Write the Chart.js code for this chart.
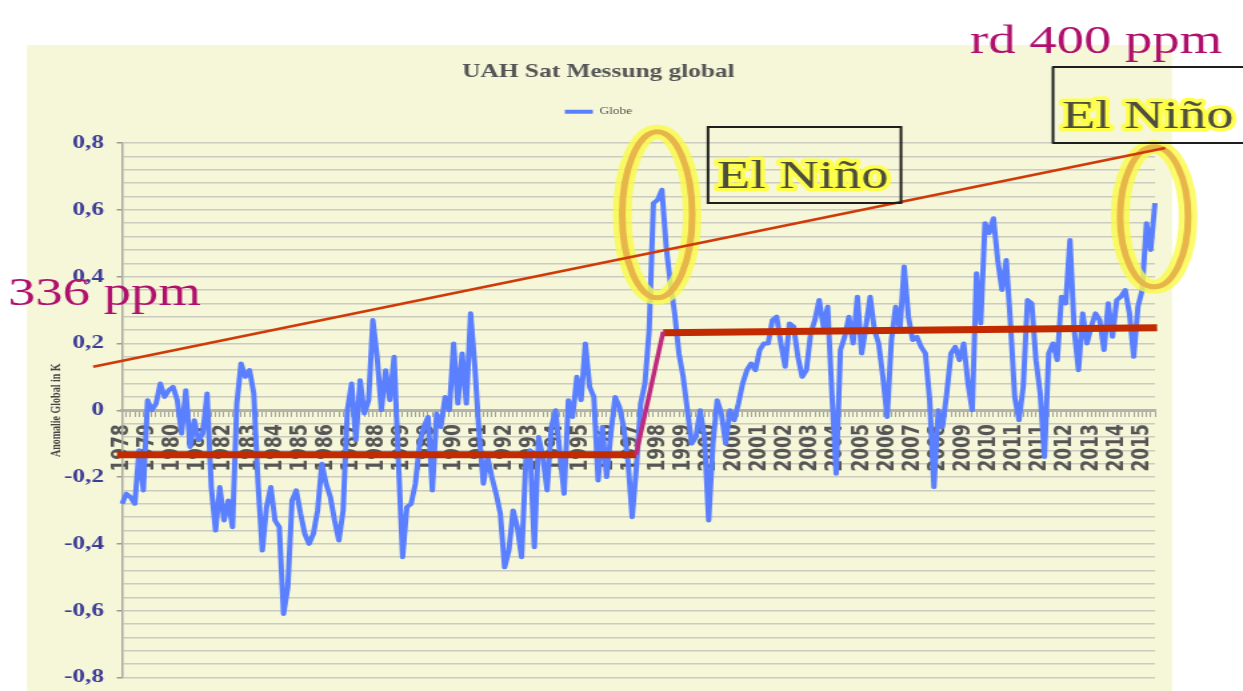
<!DOCTYPE html>
<html>
<head>
<meta charset="utf-8">
<title>UAH Sat Messung global</title>
<script src="https://cdn.jsdelivr.net/npm/chart.js@4.4.1/dist/chart.umd.min.js"></script>
<style>
  html, body { margin: 0; padding: 0; background: #fff; }
  #wrap { width: 1243px; height: 691px; overflow: hidden; }
</style>
</head>
<body>
<div id="wrap">
  <!-- the slide is a 4:3 picture stretched to 16:9, so the canvas is drawn narrow and stretched by css -->
  <canvas id="uahChart" width="932" height="691" style="width:1243px;height:691px"></canvas>
</div>
<script>
// UAH global anomaly: one value every two months
const anomaly = [
  -0.28, -0.25, -0.26, -0.28, -0.12, -0.24, 0.03, 0.00, 0.02, 0.08,
  0.04, 0.06, 0.07, 0.03, -0.07, 0.06, -0.11, -0.03, -0.09, -0.07,
  0.05, -0.23, -0.36, -0.23, -0.33, -0.27, -0.35, 0.02, 0.14, 0.10,
  0.12, 0.05, -0.22, -0.42, -0.29, -0.23, -0.33, -0.35, -0.61, -0.53,
  -0.27, -0.24, -0.31, -0.37, -0.40, -0.37, -0.30, -0.16, -0.22, -0.26,
  -0.33, -0.39, -0.30, 0.00, 0.08, -0.09, 0.09, -0.01, 0.03, 0.27,
  0.16, 0.00, 0.12, 0.03, 0.16, -0.15, -0.44, -0.29, -0.28, -0.22,
  -0.10, -0.05, -0.02, -0.24, -0.01, -0.05, 0.04, 0.00, 0.20, 0.02,
  0.17, 0.02, 0.29, 0.13, -0.07, -0.22, -0.14, -0.20, -0.25, -0.31,
  -0.47, -0.42, -0.30, -0.35, -0.44, -0.15, -0.12, -0.41, -0.08, -0.14,
  -0.24, -0.05, 0.00, -0.13, -0.25, 0.03, -0.02, 0.10, 0.03, 0.20,
  0.07, 0.04, -0.21, -0.05, -0.20, -0.07, 0.04, 0.01, -0.05, -0.15,
  -0.32, -0.17, 0.02, 0.08, 0.24, 0.62, 0.63, 0.66, 0.49, 0.38,
  0.29, 0.17, 0.10, 0.00, -0.10, -0.08, 0.00, -0.08, -0.33, -0.10,
  0.03, -0.01, -0.10, 0.00, -0.03, 0.02, 0.08, 0.12, 0.14, 0.12,
  0.18, 0.20, 0.20, 0.27, 0.28, 0.20, 0.13, 0.26, 0.25, 0.16,
  0.10, 0.12, 0.23, 0.27, 0.33, 0.25, 0.31, 0.05, -0.19, 0.18,
  0.22, 0.28, 0.20, 0.34, 0.17, 0.25, 0.34, 0.24, 0.20, 0.10,
  -0.02, 0.21, 0.31, 0.24, 0.43, 0.28, 0.21, 0.22, 0.19, 0.17,
  0.03, -0.23, 0.00, -0.05, 0.05, 0.17, 0.19, 0.15, 0.20, 0.08,
  0.00, 0.41, 0.26, 0.56, 0.53, 0.575, 0.45, 0.36, 0.45, 0.26,
  0.04, -0.03, 0.07, 0.33, 0.32, 0.15, 0.05, -0.14, 0.17, 0.20,
  0.15, 0.34, 0.32, 0.51, 0.24, 0.12, 0.29, 0.20, 0.25, 0.29,
  0.27, 0.18, 0.32, 0.22, 0.33, 0.34, 0.36, 0.29, 0.16, 0.31,
  0.36, 0.56, 0.48, 0.62
];
const periods = anomaly.map((_, i) => i);

// category labels as printed on the slide, one every 6 points
const yearLabels = [
  '1978', '1979', '1980', '1981', '1982', '1983', '1984', '1985', '1986', '1987',
  '1988', '1989', '1989', '1990', '1991', '1992', '1993', '1994', '1995', '1996',
  '1997', '1998', '1999', '2000', '2000', '2001', '2002', '2003', '2004', '2005',
  '2006', '2007', '2008', '2009', '2010', '2011', '2011', '2012', '2013', '2014',
  '2015'
];
const labelEvery = 6;

// overlay lines, in data units (x = point index, y = anomaly)
const co2TrendX = [-6.8, 245.4];
const co2TrendY = [0.13, 0.785];
const stepLowX = [-1.2, 120.9];
const stepLowY = [-0.133, -0.133];
const stepRiseX = [120.9, 127.3];
const stepRiseY = [-0.133, 0.235];
const stepHighX = [127.3, 243.5];
const stepHighY = [0.232, 0.247];
const ninoX = [125.9, 242.8];
const ninoY = [0.585, 0.579];

const STRETCH = 1243 / 932;
const sx = v => v / STRETCH; // screen px -> canvas px

function fmtTick(v) {
  const h = Math.round(v * 100);
  if (h % 20 !== 0) return '';
  if (h === 0) return '0';
  return (h / 100).toFixed(1).replace('.', ',');
}
const isMajor = v => Math.round(v * 100) % 20 === 0;

const framePlugin = {
  id: 'frame',
  beforeDraw(chart) {
    const ctx = chart.ctx;
    ctx.save();
    ctx.fillStyle = '#ffffff';
    ctx.fillRect(0, 0, chart.width, chart.height);
    ctx.fillStyle = '#f5f7d8';
    ctx.fillRect(sx(27), 45, sx(1172) - sx(27), chart.height - 45);
    ctx.restore();
  }
};

function segment(ctx, x0, y0, x1, y1, color, width) {
  ctx.beginPath();
  ctx.moveTo(x0, y0);
  ctx.lineTo(x1, y1);
  ctx.strokeStyle = color;
  ctx.lineWidth = width;
  ctx.lineCap = 'butt';
  ctx.stroke();
}

function ring(ctx, cx, cy, rx, ry) {
  ctx.beginPath();
  ctx.ellipse(cx, cy, rx, ry, 0, 0, Math.PI * 2);
  ctx.strokeStyle = 'rgba(250,250,70,0.8)';
  ctx.lineWidth = 14;
  ctx.stroke();
  ctx.strokeStyle = '#e8b54a';
  ctx.lineWidth = 5;
  ctx.stroke();
}

function ninoLabel(ctx, x, y, bx, by, bw, bh) {
  ctx.strokeStyle = '#1e1e1e';
  ctx.lineWidth = 2;
  ctx.strokeRect(bx, by, bw, bh);
  ctx.font = '41px "Liberation Serif"';
  ctx.textAlign = 'left';
  ctx.textBaseline = 'alphabetic';
  ctx.lineJoin = 'round';
  ctx.strokeStyle = 'rgba(255,255,60,0.9)';
  ctx.lineWidth = 7;
  ctx.strokeText('El Niño', x, y);
  ctx.fillStyle = '#4e4e3e';
  ctx.fillText('El Niño', x, y);
}

const notesPlugin = {
  id: 'notes',
  afterDraw(chart) {
    const {ctx, scales: {x, y}} = chart;
    const px = i => x.getPixelForValue(i);
    const py = v => y.getPixelForValue(v);
    ctx.save();
    segment(ctx, px(stepLowX[0]), py(stepLowY[0]), px(stepLowX[1]), py(stepLowY[1]), '#c22a00', 7);
    segment(ctx, px(stepHighX[0]), py(stepHighY[0]), px(stepHighX[1]), py(stepHighY[1]), '#c22a00', 7);
    segment(ctx, px(stepRiseX[0]), py(stepRiseY[0]), px(stepRiseX[1]), py(stepRiseY[1]), '#bf2a7f', 3.5);
    ring(ctx, px(ninoX[0]), py(ninoY[0]), sx(35), 83);
    ring(ctx, px(ninoX[1]), py(ninoY[1]), sx(34), 70);
    segment(ctx, px(co2TrendX[0]), py(co2TrendY[0]), px(co2TrendX[1]), py(co2TrendY[1]), '#cf3a08', 2.5);

    ninoLabel(ctx, sx(717), 188, sx(708), 127, sx(901) - sx(708), 76);
    ninoLabel(ctx, sx(1062), 128, sx(1053), 67, sx(1250) - sx(1053), 76);

    ctx.font = '41px "Liberation Serif"';
    ctx.fillStyle = '#b0106c';
    ctx.textAlign = 'left';
    ctx.textBaseline = 'alphabetic';
    ctx.fillText('336 ppm', sx(8), 305);
    ctx.fillText('rd 400 ppm', sx(970), 53);
    ctx.restore();
  }
};

new Chart(document.getElementById('uahChart'), {
  type: 'line',
  data: {
    labels: periods,
    datasets: [{
      label: 'Globe',
      data: anomaly,
      borderColor: '#5b80ff',
      backgroundColor: '#5b80ff',
      borderWidth: 4,
      borderJoinStyle: 'round',
      pointRadius: 0,
      tension: 0,
      fill: false
    }]
  },
  options: {
    responsive: false,
    animation: false,
    layout: { padding: { top: 45, left: 31.5, right: 66, bottom: 13.5 } },
    plugins: {
      title: {
        display: true,
        text: 'UAH Sat Messung global',
        color: '#555',
        font: { family: 'Liberation Serif', size: 19, weight: 'bold', lineHeight: 1.2 },
        padding: { top: 16, bottom: 0 }
      },
      legend: {
        display: true,
        position: 'top',
        labels: {
          usePointStyle: true,
          pointStyle: 'line',
          pointStyleWidth: 21,
          padding: 23,
          color: '#555',
          font: { family: 'Liberation Serif', size: 10 }
        }
      },
      // empty subtitle below the legend, only used as a spacer
      subtitle: {
        display: true,
        text: '',
        weight: 500,
        font: { size: 1, lineHeight: 1 },
        padding: { top: 15.2, bottom: 0 }
      },
      tooltip: { enabled: false }
    },
    scales: {
      x: {
        type: 'category',
        position: { y: 0 },
        offset: false,
        grid: { display: true, drawOnChartArea: false, drawTicks: true, tickLength: 5, tickColor: '#a3a39a', tickWidth: 1 },
        border: { display: true, color: '#b3b3aa', width: 3 },
        ticks: {
          autoSkip: false,
          maxRotation: 90,
          minRotation: 90,
          padding: 9,
          color: '#555',
          font: { family: 'DejaVu Sans', size: 17, weight: 'bold' },
          callback: (v, i) => (i % labelEvery === 0 ? (yearLabels[i / labelEvery] || '') : '')
        }
      },
      y: {
        min: -0.8,
        max: 0.8,
        grid: {
          color: '#cbcbc0',
          lineWidth: 1.5,
          tickLength: 4,
          tickColor: c => (isMajor(c.tick.value) ? '#9a9a92' : 'rgba(0,0,0,0)')
        },
        border: { color: '#a9a9a0', width: 1.5 },
        ticks: {
          stepSize: 0.04,
          autoSkip: false,
          padding: 9.5,
          color: '#3c3c96',
          font: { family: 'Liberation Serif', size: 19, weight: 'bold' },
          callback: v => fmtTick(v)
        },
        title: {
          display: true,
          text: 'Anomalie Global in K',
          color: '#444',
          font: { family: 'Liberation Serif', size: 10, weight: 'bold' },
          padding: { top: 5, bottom: 0 }
        },
        afterFit: s => { s.width = 60; s.paddingTop = 0; s.paddingBottom = 0; }
      }
    }
  },
  plugins: [framePlugin, notesPlugin]
});
</script>
</body>
</html>
